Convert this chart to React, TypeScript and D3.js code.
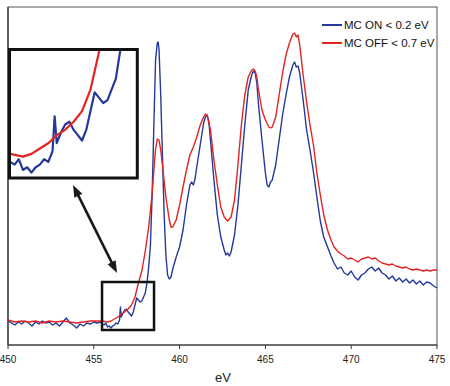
import * as d3 from 'd3';

// energy axis (eV)
const xTicks = [450, 455, 460, 465, 470, 475];

// MC ON < 0.2 eV  -> [eV, intensity a.u.]
const mcOn: [number, number][] = [
  [450.0, 24], [450.2, 22], [450.4, 20], [450.6, 23], [450.8, 21], [451.0, 24],
  [451.2, 22], [451.4, 19], [451.6, 23], [451.8, 21], [452.0, 24], [452.2, 22],
  [452.4, 23], [452.6, 20], [452.8, 22], [453.0, 19], [453.2, 23], [453.4, 27],
  [453.6, 22], [453.8, 20], [454.0, 17], [454.2, 21], [454.4, 19], [454.6, 22],
  [454.8, 21], [455.0, 23], [455.2, 22], [455.4, 23], [455.5, 21], [455.6, 20],
  [455.7, 22], [455.8, 18], [455.9, 19], [456.0, 17], [456.1, 19], [456.2, 20],
  [456.3, 22], [456.4, 21], [456.5, 25], [456.55, 38], [456.6, 28], [456.7, 32],
  [456.8, 35], [456.9, 36], [457.0, 33], [457.1, 31], [457.2, 29], [457.3, 33],
  [457.4, 40], [457.5, 47], [457.6, 45], [457.7, 43], [457.8, 44], [457.9, 48],
  [458.0, 52], [458.1, 62], [458.2, 78], [458.3, 100], [458.4, 150], [458.5, 220],
  [458.6, 285], [458.7, 302], [458.75, 303], [458.8, 296], [458.9, 250], [459.0, 190],
  [459.1, 130], [459.2, 90], [459.3, 70], [459.4, 66], [459.5, 68], [459.6, 76],
  [459.8, 88], [460.0, 98], [460.2, 115], [460.4, 140], [460.6, 160], [460.7, 163],
  [460.8, 160], [460.9, 166], [461.0, 178], [461.2, 200], [461.4, 222], [461.5, 228],
  [461.6, 230], [461.7, 224], [461.8, 205], [462.0, 165], [462.2, 130], [462.4, 108],
  [462.6, 95], [462.7, 90], [462.8, 92], [462.9, 89], [463.0, 93], [463.2, 110],
  [463.4, 140], [463.6, 180], [463.8, 220], [464.0, 255], [464.2, 270], [464.3, 274],
  [464.4, 272], [464.5, 262], [464.6, 240], [464.8, 205], [465.0, 172], [465.1, 160],
  [465.2, 158], [465.3, 163], [465.4, 165], [465.6, 180], [465.8, 205], [466.0, 230],
  [466.2, 250], [466.4, 268], [466.6, 280], [466.7, 283], [466.8, 278], [466.9, 279],
  [467.0, 272], [467.2, 245], [467.4, 215], [467.6, 195], [467.8, 173], [468.0, 148],
  [468.2, 124], [468.4, 108], [468.6, 99], [468.8, 90], [469.0, 82], [469.2, 76],
  [469.4, 78], [469.6, 72], [469.8, 70], [470.0, 74], [470.2, 68], [470.4, 65],
  [470.6, 70], [470.8, 72], [471.0, 76], [471.2, 78], [471.4, 74], [471.6, 77],
  [471.8, 72], [472.0, 70], [472.2, 66], [472.4, 69], [472.6, 64], [472.8, 67],
  [473.0, 63], [473.2, 66], [473.4, 62], [473.6, 65], [473.8, 61], [474.0, 64],
  [474.2, 60], [474.4, 63], [474.6, 62], [474.8, 59], [475.0, 57],
];

// MC OFF < 0.7 eV
const mcOff: [number, number][] = [
  [450.0, 25], [450.4, 23], [450.8, 24], [451.2, 23], [451.6, 24], [452.0, 22],
  [452.4, 24], [452.8, 23], [453.2, 24], [453.6, 23], [454.0, 22], [454.4, 23],
  [454.8, 24], [455.2, 24], [455.5, 24], [455.8, 23], [456.0, 24], [456.2, 26],
  [456.4, 28], [456.6, 31], [456.8, 33], [457.0, 36], [457.2, 40], [457.4, 48],
  [457.6, 62], [457.8, 74], [458.0, 94], [458.2, 118], [458.4, 152], [458.5, 175],
  [458.6, 196], [458.7, 206], [458.8, 205], [458.9, 195], [459.0, 180], [459.2, 148],
  [459.4, 125], [459.5, 118], [459.6, 118], [459.8, 125], [460.0, 140], [460.2, 158],
  [460.4, 175], [460.6, 190], [460.8, 198], [461.0, 208], [461.2, 220], [461.4, 228],
  [461.5, 231], [461.6, 230], [461.8, 215], [462.0, 185], [462.2, 160], [462.4, 138],
  [462.6, 128], [462.8, 124], [463.0, 128], [463.2, 145], [463.4, 180], [463.6, 220],
  [463.8, 250], [464.0, 268], [464.2, 275], [464.3, 276], [464.4, 274], [464.5, 268],
  [464.6, 255], [464.8, 235], [465.0, 225], [465.2, 218], [465.3, 217], [465.4, 218],
  [465.6, 228], [465.8, 250], [466.0, 272], [466.2, 290], [466.4, 302], [466.6, 311],
  [466.7, 312], [466.8, 308], [466.9, 310], [467.0, 300], [467.2, 270], [467.4, 243],
  [467.6, 220], [467.8, 200], [468.0, 172], [468.2, 150], [468.4, 130], [468.6, 116],
  [468.8, 106], [469.0, 98], [469.2, 94], [469.4, 91], [469.6, 89], [469.8, 86],
  [470.0, 87], [470.2, 85], [470.4, 83], [470.6, 86], [470.8, 87], [471.0, 88],
  [471.2, 86], [471.4, 87], [471.6, 84], [471.8, 82], [472.0, 81], [472.2, 80],
  [472.4, 81], [472.6, 79], [472.8, 78], [473.0, 77], [473.2, 78], [473.4, 76],
  [473.6, 75], [473.8, 76], [474.0, 75], [474.2, 74], [474.4, 75], [474.6, 74],
  [474.8, 75], [475.0, 75],
];

// zoomed region shown in the inset
const zoomEv = [455.48, 458.51];
const zoomVal = [15, 63];

const series = [
  { name: 'MC ON < 0.2 eV', data: mcOn, color: '#25399a' },
  { name: 'MC OFF < 0.7 eV', data: mcOff, color: '#e32420' },
];

const FONT = "Arial, 'Liberation Sans', sans-serif";

function Arrow({ x1, y1, x2, y2 }) {
  const a = Math.atan2(y2 - y1, x2 - x1);
  const len = 12;
  const hw = 4.5;
  const head = (x, y, ang) => {
    const bx = x - len * Math.cos(ang);
    const by = y - len * Math.sin(ang);
    return `${x},${y} ${bx + hw * Math.sin(ang)},${by - hw * Math.cos(ang)} ${bx - hw * Math.sin(ang)},${by + hw * Math.cos(ang)}`;
  };
  return (
    <g fill="#1a1a1a">
      <line x1={x1 + 8 * Math.cos(a)} y1={y1 + 8 * Math.sin(a)} x2={x2 - 8 * Math.cos(a)} y2={y2 - 8 * Math.sin(a)} stroke="#1a1a1a" strokeWidth={2.6} />
      <polygon points={head(x2, y2, a)} />
      <polygon points={head(x1, y1, a + Math.PI)} />
    </g>
  );
}

export default function App() {
  const width = 450;
  const height = 386;
  const margin = { top: 7, right: 13, bottom: 41, left: 8 };

  const x = d3.scaleLinear().domain([450, 475]).range([margin.left, width - margin.right]);
  const y = d3.scaleLinear().domain([0, 338]).range([height - margin.bottom, margin.top]);

  const line = d3.line<[number, number]>().x((d) => x(d[0])).y((d) => y(d[1]));

  // inset scales
  const ix = d3.scaleLinear().domain(zoomEv).range([9.5, 137.3]);
  const iy = d3.scaleLinear().domain(zoomVal).range([178, 49.5]);
  const insetLine = d3.line<[number, number]>().x((d) => ix(d[0])).y((d) => iy(d[1]));

  const plotBottom = y(0);

  return (
    <div style={{ position: 'fixed', left: 0, top: 0 }}>
      <svg width={width} height={height} style={{ display: 'block', background: '#fff' }}>
        <defs>
          <clipPath id="insetClip">
            <rect x={ix(zoomEv[0])} y={iy(zoomVal[1])} width={ix(zoomEv[1]) - ix(zoomEv[0])} height={iy(zoomVal[0]) - iy(zoomVal[1])} />
          </clipPath>
        </defs>

        {/* frame */}
        <rect x={x(450)} y={margin.top} width={x(475) - x(450)} height={plotBottom - margin.top} fill="none" stroke="#555" strokeWidth={1} />
        <line x1={x(450)} x2={x(475)} y1={plotBottom} y2={plotBottom} stroke="#333" strokeWidth={1.2} />
        <line x1={x(450)} x2={x(450)} y1={margin.top} y2={plotBottom} stroke="#333" strokeWidth={1.2} />

        {xTicks.map((t) => (
          <g key={t}>
            <line x1={x(t)} x2={x(t)} y1={plotBottom} y2={plotBottom + 4} stroke="#333" />
            <text x={x(t)} y={363} textAnchor="middle" fontSize={10} fontFamily={FONT} fill="#222">
              {t}
            </text>
          </g>
        ))}
        <text x={223} y={382} textAnchor="middle" fontSize={13} fontFamily={FONT} fill="#222">
          eV
        </text>

        {/* spectra */}
        {series.map((s) => (
          <path key={s.name} d={line(s.data)} fill="none" stroke={s.color} strokeWidth={1.4} strokeLinejoin="round" />
        ))}

        {/* legend */}
        {series.map((s, i) => (
          <g key={s.name} transform={`translate(322, ${25 + i * 18})`}>
            <line x1={0} x2={20} y1={0} y2={0} stroke={s.color} strokeWidth={2} />
            <text x={22} y={4} fontSize={11.5} fontFamily={FONT} fill="#111">
              {s.name}
            </text>
          </g>
        ))}

        {/* small box on main plot */}
        <rect x={x(zoomEv[0])} y={y(zoomVal[1])} width={x(zoomEv[1]) - x(zoomEv[0])} height={y(zoomVal[0]) - y(zoomVal[1])} fill="none" stroke="#111" strokeWidth={2.5} />

        {/* inset */}
        <rect x={ix(zoomEv[0])} y={iy(zoomVal[1])} width={ix(zoomEv[1]) - ix(zoomEv[0])} height={iy(zoomVal[0]) - iy(zoomVal[1])} fill="#fff" />
        <g clipPath="url(#insetClip)">
          {series.map((s) => (
            <path key={s.name} d={insetLine(s.data)} fill="none" stroke={s.color} strokeWidth={2.2} strokeLinejoin="round" />
          ))}
        </g>
        <rect x={ix(zoomEv[0])} y={iy(zoomVal[1])} width={ix(zoomEv[1]) - ix(zoomEv[0])} height={iy(zoomVal[0]) - iy(zoomVal[1])} fill="none" stroke="#111" strokeWidth={3} />

        <Arrow x1={73} y1={185} x2={117} y2={273} />
      </svg>
    </div>
  );
}
